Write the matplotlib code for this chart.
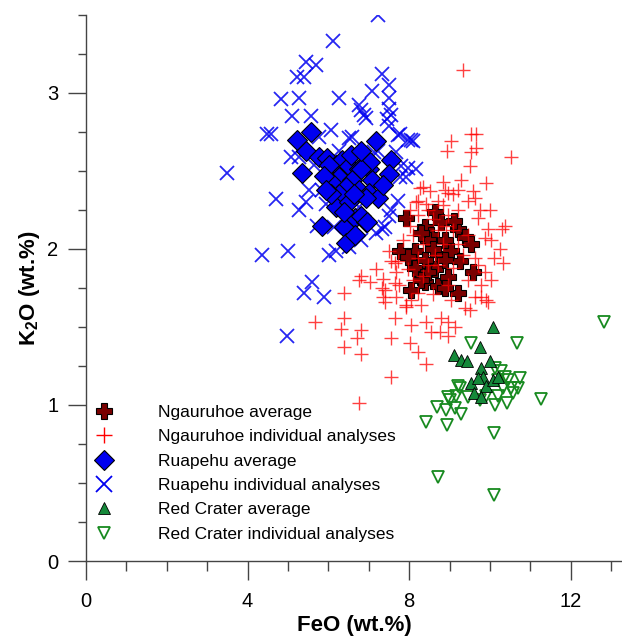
import matplotlib.pyplot as plt
from matplotlib.lines import Line2D
from matplotlib.ticker import MultipleLocator

plt.rcParams['font.family'] = 'Liberation Sans'
plt.rcParams['mathtext.fontset'] = 'custom'
plt.rcParams['mathtext.rm'] = 'Liberation Sans'
plt.rcParams['mathtext.bf'] = 'Liberation Sans:bold'

# Ruapehu individual analyses (FeO, K2O wt.%)
rua_ind_feo = [7.22, 6.11, 5.44, 5.69, 5.39, 5.22, 5.27, 4.83, 6.26, 7.32,
               7.49, 7.07, 7.49, 6.75, 6.80, 7.49, 6.92, 7.44, 5.57, 5.10,
               6.06, 7.73, 8.05, 6.58, 4.58, 4.48, 3.50, 4.70, 4.36, 5.00,
               5.44, 5.84, 6.01, 5.59, 5.39, 5.89, 4.98, 5.07, 5.76, 6.50,
               5.94, 7.54, 7.49, 7.98, 8.10, 7.78, 7.68, 7.98, 8.18, 7.81,
               7.78, 7.73, 7.54, 7.41, 7.19, 6.87, 7.24, 7.12, 6.75, 6.82,
               7.91, 7.49, 7.32, 6.18, 6.50, 6.38, 6.63, 5.52, 5.27, 5.71,
               6.13, 5.27, 6.26, 5.64, 6.63, 6.01]
rua_ind_k2o = [3.50, 3.33, 3.20, 3.18, 3.10, 3.10, 2.97, 2.96, 2.97, 3.12,
               3.05, 3.01, 2.97, 2.92, 2.89, 2.90, 2.84, 2.83, 2.85, 2.85,
               2.76, 2.73, 2.70, 2.72, 2.74, 2.74, 2.49, 2.32, 1.96, 1.99,
               2.30, 2.38, 1.96, 1.79, 1.72, 1.69, 1.44, 2.59, 2.72, 2.71,
               2.29, 2.86, 2.79, 2.70, 2.69, 2.74, 2.62, 2.52, 2.51, 2.53,
               2.46, 2.31, 2.25, 2.14, 2.10, 2.86, 2.63, 2.62, 2.27, 2.06,
               2.46, 2.21, 2.13, 1.99, 2.01, 2.28, 2.38, 2.38, 2.25, 2.15,
               2.14, 2.59, 2.63, 2.54, 2.58, 2.47]

# Ruapehu averages
rua_avg_feo = [5.57, 5.22, 5.44, 5.76, 5.96, 5.34, 6.18, 6.33, 6.50, 6.75,
               7.00, 6.26, 6.08, 6.58, 7.07, 6.43, 6.75, 6.26, 7.00, 6.18,
               6.50, 5.84, 6.38, 6.67, 6.92, 6.43, 7.17, 7.54, 7.49, 7.04,
               6.82, 7.24, 6.92, 6.82, 6.95, 6.01, 5.89, 6.63, 6.38, 6.06,
               6.55, 6.80, 7.36, 5.94, 6.67]
rua_avg_k2o = [2.75, 2.70, 2.63, 2.59, 2.58, 2.49, 2.54, 2.57, 2.53, 2.51,
               2.51, 2.46, 2.42, 2.44, 2.44, 2.40, 2.38, 2.35, 2.36, 2.27,
               2.30, 2.15, 2.14, 2.20, 2.17, 2.04, 2.69, 2.57, 2.48, 2.56,
               2.51, 2.33, 2.33, 2.21, 2.17, 2.54, 2.47, 2.35, 2.24, 2.35,
               2.60, 2.63, 2.41, 2.38, 2.09]

# Ngauruhoe individual analyses
ngau_ind_feo = [9.33, 10.52, 9.66, 9.04, 9.53, 8.94, 9.53, 9.51, 9.66, 8.84,
                9.29, 8.28, 8.52, 9.21, 9.58, 8.18, 8.42, 8.72, 9.63, 10.00,
                9.75, 9.70, 10.37, 9.95, 10.02, 8.03, 8.89, 8.35, 8.97, 8.23,
                9.88, 10.32, 9.63, 9.88, 9.78, 9.78, 9.95, 9.04, 8.30, 7.91,
                7.66, 8.05, 8.42, 8.97, 8.55, 8.77, 7.56, 8.03, 6.80, 6.38,
                6.38, 6.82, 7.17, 7.36, 7.41, 7.66, 7.66, 7.49, 8.05, 7.36,
                7.68, 6.75, 7.04, 7.32, 7.41, 7.93, 6.31, 6.70, 8.23, 6.38,
                6.82, 8.42, 7.56, 8.79, 9.14, 8.97, 9.51, 9.90, 10.02, 9.63,
                6.77, 5.67, 8.23, 8.60, 8.97, 9.09, 8.84, 8.35, 8.10, 7.86,
                7.73, 7.98, 8.35, 8.72, 9.09, 9.33, 9.46, 9.21, 8.84, 8.47,
                8.65, 8.23, 8.97, 8.60, 8.23, 7.74, 7.68, 7.54, 9.46, 9.70,
                9.46, 9.09, 8.72, 8.47, 8.10, 9.21, 8.92, 8.03, 10.30, 10.10,
                10.25, 9.38, 9.90]
ngau_ind_k2o = [3.15, 2.59, 2.74, 2.69, 2.74, 2.63, 2.62, 2.53, 2.65, 2.43,
                2.44, 2.39, 2.37, 2.38, 2.37, 2.30, 2.29, 2.31, 2.33, 2.25,
                2.25, 2.20, 2.15, 2.13, 2.06, 2.25, 2.38, 2.40, 2.36, 2.31,
                2.07, 1.91, 1.94, 1.85, 1.77, 1.69, 1.66, 1.67, 1.64, 1.64,
                1.56, 1.51, 1.53, 1.53, 1.47, 1.47, 1.43, 1.40, 1.48, 1.56,
                1.72, 1.83, 1.87, 1.81, 1.74, 1.78, 1.91, 1.99, 1.67, 1.69,
                1.69, 1.80, 1.79, 1.75, 1.66, 1.63, 1.49, 1.43, 1.34, 1.37,
                1.33, 1.26, 1.18, 1.56, 1.50, 1.44, 1.61, 1.67, 1.80, 1.69,
                1.01, 1.53, 2.22, 2.19, 2.22, 2.12, 2.03, 2.03, 2.09, 2.06,
                1.92, 1.87, 1.83, 1.90, 1.88, 1.96, 2.09, 2.25, 2.28, 2.25,
                1.96, 1.94, 1.77, 1.71, 1.72, 1.77, 1.85, 1.92, 1.80, 1.90,
                2.31, 2.35, 2.12, 1.90, 1.80, 2.03, 2.15, 2.15, 2.13, 1.94,
                2.00, 1.62, 2.42]

# Ngauruhoe averages
ngau_avg_feo = [7.93, 8.65, 8.40, 9.21, 8.55, 9.38, 9.53, 7.78, 8.15, 7.98,
                8.72, 9.04, 9.26, 8.15, 8.65, 9.58, 8.40, 8.72, 8.05, 9.21,
                8.47, 8.89, 8.30, 8.79, 8.89, 8.40, 8.47, 8.97, 8.89, 8.60,
                8.30, 9.10]
ngau_avg_k2o = [2.20, 2.24, 2.14, 2.13, 2.09, 2.08, 2.03, 1.99, 1.99, 1.95,
                1.97, 1.99, 1.92, 1.88, 1.87, 1.85, 1.79, 1.76, 1.74, 1.72,
                2.06, 2.06, 2.10, 2.17, 1.93, 1.93, 1.85, 1.82, 1.75, 2.00,
                1.80, 2.18]

# Red Crater individual analyses
rc_ind_feo = [12.83, 9.53, 10.67, 10.74, 11.26, 9.21, 8.97, 8.69, 8.92, 9.14,
              9.29, 8.42, 8.94, 10.10, 8.72, 10.10, 10.42, 10.12, 10.52, 10.69,
              10.32, 10.20, 10.37, 10.27, 10.12, 9.46, 9.16, 9.90, 9.75, 10.44,
              10.57, 10.20, 9.26, 9.00]
rc_ind_k2o = [1.53, 1.40, 1.40, 1.17, 1.04, 1.12, 1.05, 0.99, 0.97, 0.98,
              0.94, 0.89, 0.87, 0.82, 0.54, 0.42, 1.01, 1.00, 1.11, 1.11,
              1.11, 1.16, 1.18, 1.22, 1.24, 1.05, 1.06, 1.06, 1.03, 1.16,
              1.08, 1.06, 1.11, 1.03]

# Red Crater averages
rc_avg_feo = [10.07, 9.75, 9.11, 9.29, 9.43, 10.00, 9.78, 9.83, 9.53, 9.90,
              9.61, 9.78, 10.07, 10.20, 9.70]
rc_avg_k2o = [1.50, 1.37, 1.32, 1.29, 1.28, 1.28, 1.24, 1.18, 1.14, 1.12,
              1.08, 1.05, 1.16, 1.18, 1.17]

labels = ['Ngauruhoe average', 'Ngauruhoe individual analyses',
          'Ruapehu average', 'Ruapehu individual analyses',
          'Red Crater average', 'Red Crater individual analyses']

dark_red = '#7a0000'
blue = '#0000f0'
green = '#15893a'
green_edge = '#178a1f'

fig = plt.figure(figsize=(6.22, 6.37), dpi=100)
ax = fig.add_axes([0.1383, 0.1193, 0.8617, 0.8572])

ax.plot(rua_ind_feo, rua_ind_k2o, 'x', ms=10, mew=1.3, color=blue, alpha=0.85, ls='none')
ax.plot(rua_avg_feo, rua_avg_k2o, 'D', ms=10.5, mfc=blue, mec='black', mew=0.8, ls='none')
ax.plot(ngau_avg_feo, ngau_avg_k2o, 'P', ms=12, mfc=dark_red, mec='black', mew=0.8, ls='none')
ax.plot(ngau_ind_feo, ngau_ind_k2o, '+', ms=10, mew=1.0, color='red', alpha=0.75, ls='none')
ax.plot(rc_ind_feo, rc_ind_k2o, 'v', ms=8, mfc='none', mec=green_edge, mew=1.3, ls='none')
ax.plot(rc_avg_feo, rc_avg_k2o, '^', ms=9, mfc=green, mec='black', mew=0.6, ls='none')

ax.set_xlim(0, 13.27)
ax.set_ylim(0, 3.5)
ax.xaxis.set_major_locator(MultipleLocator(4))
ax.xaxis.set_minor_locator(MultipleLocator(1))
ax.yaxis.set_major_locator(MultipleLocator(1))
ax.yaxis.set_minor_locator(MultipleLocator(0.25))

for side in ['top', 'right']:
    ax.spines[side].set_visible(False)
for side in ['left', 'bottom']:
    ax.spines[side].set_color('#444444')
    ax.spines[side].set_linewidth(1.0)

ax.tick_params(axis='x', which='major', length=14, width=1.0, color='#444444', labelsize=14.5, pad=8)
ax.tick_params(axis='x', which='minor', length=7, width=1.0, color='#444444')
ax.tick_params(axis='y', which='major', length=13, width=1.0, color='#444444', labelsize=14.5, pad=7)
ax.tick_params(axis='y', which='minor', length=6, width=1.0, color='#444444')

ax.set_xlabel('FeO (wt.%)', fontsize=16, fontweight='bold')
ax.set_ylabel(r'K$_\mathbf{2}$O (wt.%)', fontsize=16, fontweight='bold')
ax.xaxis.set_label_coords(0.5, -0.099)
ax.yaxis.set_label_coords(-0.082, 0.5)

handles = [
    Line2D([], [], marker='P', ms=12, mfc=dark_red, mec='black', mew=0.8, ls='none'),
    Line2D([], [], marker='+', ms=12, mew=1.0, color='red', ls='none'),
    Line2D([], [], marker='D', ms=10, mfc=blue, mec='black', mew=0.8, ls='none'),
    Line2D([], [], marker='x', ms=11, mew=1.3, color=blue, ls='none'),
    Line2D([], [], marker='^', ms=9, mfc=green, mec='black', mew=0.6, ls='none'),
    Line2D([], [], marker='v', ms=8, mfc='none', mec=green_edge, mew=1.3, ls='none'),
]
ax.legend(handles, labels, loc='upper left', bbox_to_anchor=(0.018, 0.286),
          frameon=False, fontsize=12.5, handlelength=1.0, handletextpad=2.6,
          labelspacing=0.53, borderpad=0, borderaxespad=0)

plt.savefig('out.png', dpi=100)
